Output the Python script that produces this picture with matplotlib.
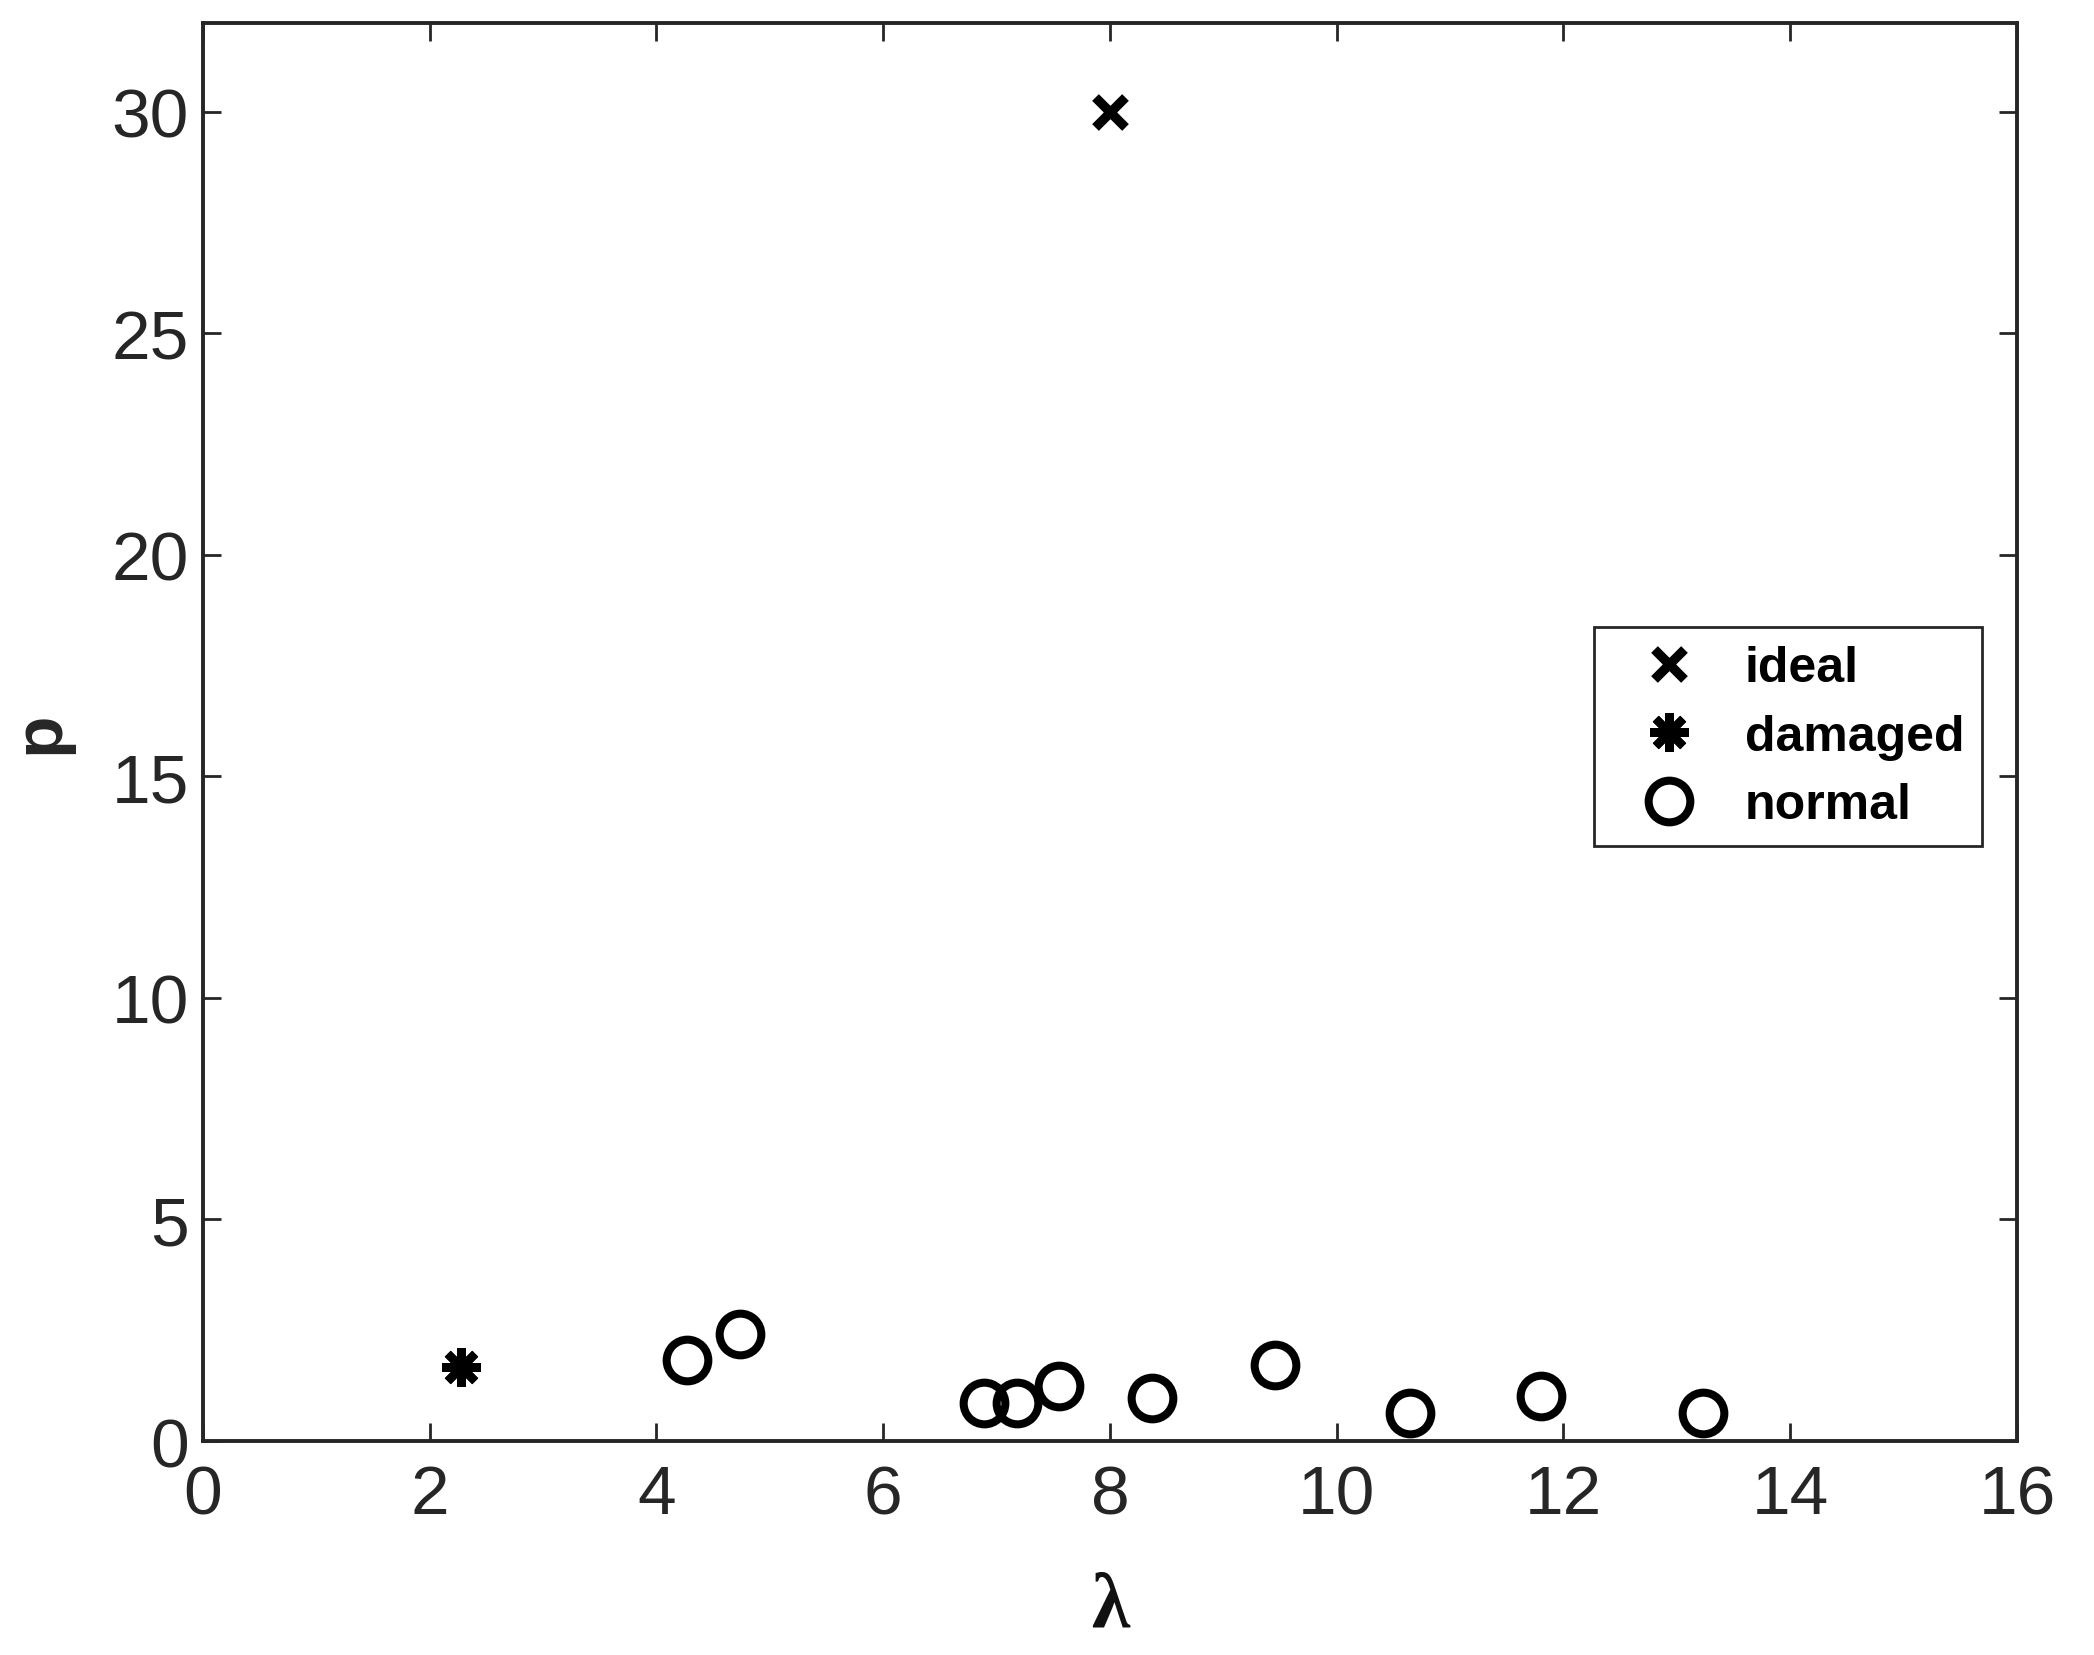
import numpy as np
import matplotlib
matplotlib.use("Agg")
import matplotlib.pyplot as plt

plt.rcParams['font.family'] = ['Liberation Sans', 'DejaVu Sans']

# data
ideal_x = [8.0]
ideal_p = [30.0]

damaged_x = [2.28]
damaged_p = [1.67]

normal_x = [4.27, 4.74, 6.89, 7.18, 7.55, 8.37, 9.46, 10.65, 11.80, 13.23]
normal_p = [1.82, 2.42, 0.86, 0.86, 1.24, 0.97, 1.72, 0.63, 1.01, 0.63]

x_ticks = [0, 2, 4, 6, 8, 10, 12, 14, 16]
y_ticks = [0, 5, 10, 15, 20, 25, 30]

axis_color = '#262626'

fig = plt.figure(figsize=(10.47, 8.28), dpi=200)
ax = fig.add_axes([0.0969, 0.1292, 0.8663, 0.8563])

ax.plot(ideal_x, ideal_p, linestyle='none', marker='x', color='black',
        markersize=11, markeredgewidth=3.4, label='ideal')
ax.plot(damaged_x, damaged_p, linestyle='none', marker=(8, 2, 0), color='black',
        markersize=14, markeredgewidth=3.0, label='damaged')
ax.plot(normal_x, normal_p, linestyle='none', marker='o', color='black',
        markerfacecolor='none', markersize=15, markeredgewidth=2.9, label='normal')

ax.set_xlim(0, 16)
ax.set_ylim(0, 32)
ax.set_xticks(x_ticks)
ax.set_yticks(y_ticks)

ax.tick_params(direction='in', length=6.5, width=1.0, top=True, right=True,
               labelsize=25, colors=axis_color)
ax.tick_params(axis='x', pad=8)
ax.tick_params(axis='y', pad=5)
for s in ax.spines.values():
    s.set_linewidth(1.4)
    s.set_color(axis_color)

ax.set_xlabel('λ', fontsize=28, fontweight='bold', family='Liberation Serif',
              color='#111111', labelpad=16)
ax.set_ylabel('p', fontsize=25, fontweight='bold', color=axis_color, labelpad=14)

leg = ax.legend(loc='upper right', bbox_to_anchor=(0.981, 0.574), borderaxespad=0,
                fancybox=False, edgecolor=axis_color, framealpha=1,
                prop={'size': 18, 'weight': 'bold'}, handlelength=2.3,
                handletextpad=0.36, labelspacing=0.45, borderpad=0.36)
leg.get_frame().set_linewidth(1.0)

fig.savefig('out.png', dpi=200)
